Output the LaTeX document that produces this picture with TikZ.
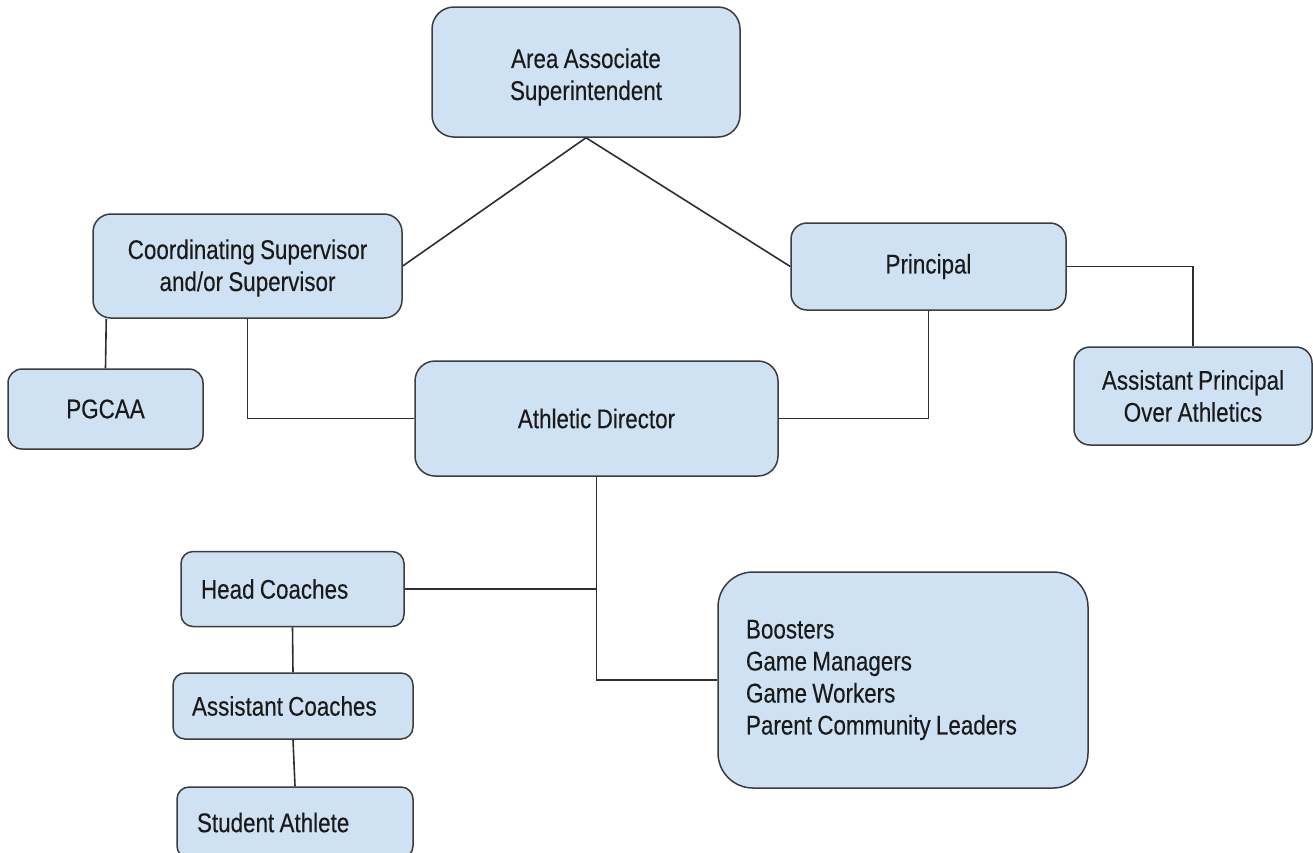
\documentclass[tikz,border=0pt]{standalone}
\usepackage{fontspec}
\setmainfont{Liberation Sans}[FakeStretch=0.83,WordSpace=0.85,FakeBold=0.25]
\definecolor{boxfill}{HTML}{CFE2F3}
\definecolor{boxline}{HTML}{3C3C3C}
\definecolor{linec}{HTML}{2E2E2E}
\definecolor{textc}{HTML}{1A1A1A}
\begin{document}
\begin{tikzpicture}[x=1pt,y=-1pt,
  box/.style={draw=boxline, line width=1.5pt, fill=boxfill, align=center,
    inner sep=0pt, font=\fontsize{27}{32}\selectfont, text=textc},
  leftbox/.style={box, align=flush left},
  txt/.style={align=center, inner sep=0pt, font=\fontsize{27}{32}\selectfont, text=textc},
  conn/.style={draw=linec, line width=1.6pt}]
\useasboundingbox (0,0) rectangle (1313,852);
\clip (0,0) rectangle (1313,852);
\node[box, minimum width=308pt, minimum height=130pt, rounded corners=22pt] (top) at (586,72) {};
\node[txt] (toptxt) at ([yshift=-5pt]top.center) {Area Associate\\Superintendent};
\node[box, minimum width=309pt, minimum height=104pt, rounded corners=18pt] (coord) at (247.5,266) {};
\node[txt] (coordtxt) at ([yshift=-2pt]coord.center) {Coordinating Supervisor\\and/or Supervisor};
\node[box, minimum width=275pt, minimum height=87pt, rounded corners=16pt] (princ) at (928.5,266.5) {Principal};
\node[box, minimum width=195pt, minimum height=80pt, rounded corners=14pt] (pgcaa) at (105.5,409) {PGCAA};
\node[box, minimum width=363pt, minimum height=115pt, rounded corners=20pt] (ad) at (596.5,418.5) {Athletic Director};
\node[box, minimum width=238pt, minimum height=98pt, rounded corners=16pt] (ap) at (1193,396) {Assistant Principal\\Over Athletics};
\node[leftbox, text width=183pt, inner xsep=20pt, minimum height=75pt, rounded corners=12pt] (hc) at (292.5,589) {Head Coaches};
\node[leftbox, text width=202pt, inner xsep=19pt, minimum height=66pt, rounded corners=12pt] (ac) at (293,706) {Assistant Coaches};
\node[leftbox, text width=196pt, inner xsep=20pt, minimum height=71pt, rounded corners=12pt] (sa) at (295,822.5) {Student Athlete};
\node[leftbox, text width=314pt, inner xsep=28pt, minimum height=216pt, rounded corners=35pt] (boost) at (903,680) {Boosters\\Game Managers\\Game Workers\\Parent Community Leaders};
% connectors
\draw[conn] (top.south) -- (coord.east);
\draw[conn] (top.south) -- (princ.west);
\draw[conn] (princ.east) -| (ap.north);
\draw[conn] (princ.south) |- (ad.east);
\draw[conn] (coord.south) |- (ad.west);
\draw[conn] ([xshift=14pt]coord.south west) -- (pgcaa.north);
\draw[conn] (ad.south) |- (boost.west);
\coordinate (hcj) at (ad.south |- hc.east);
\draw[conn] (hc.east) -- (hcj);
\draw[conn] (hc.south) -- (ac.north);
\draw[conn] (ac.south) -- (sa.north);
\end{tikzpicture}
\end{document}
